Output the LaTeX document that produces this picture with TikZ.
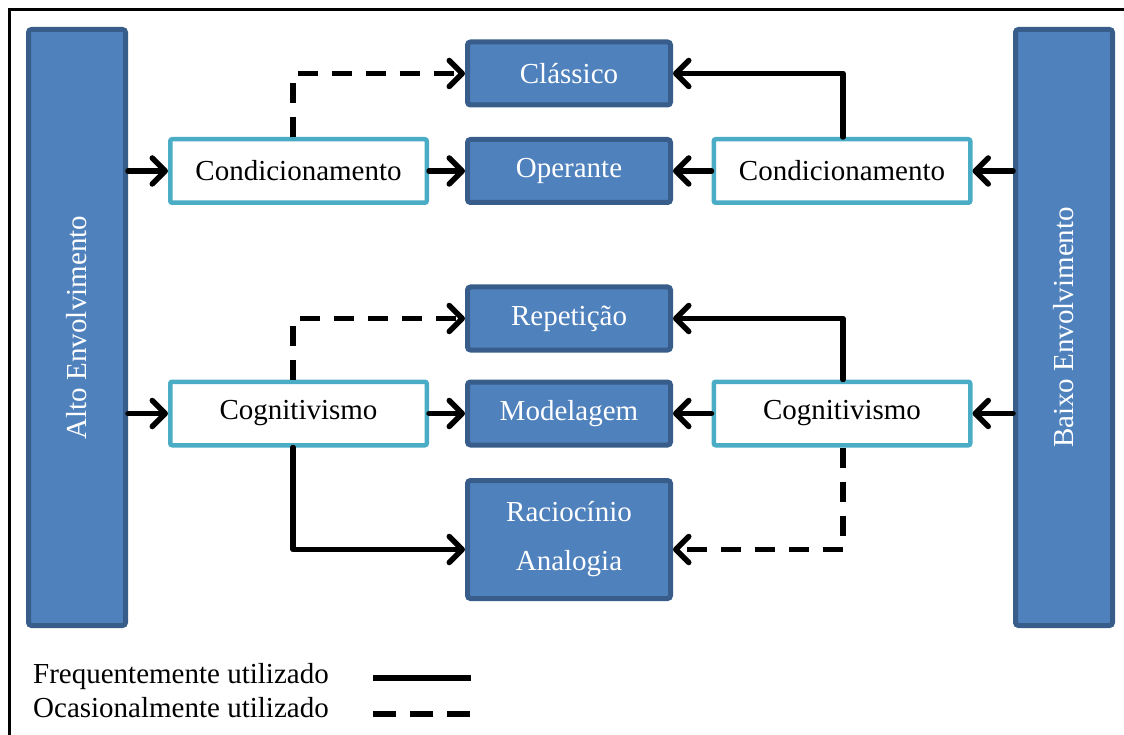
\documentclass[tikz,border=0pt]{standalone}
\usepackage{fontspec}
\setmainfont{Liberation Serif}
\usetikzlibrary{arrows.meta,calc}
\definecolor{barfill}{HTML}{4F81BD}
\definecolor{barline}{HTML}{385D8A}
\definecolor{cyanline}{HTML}{4BACC6}
\tikzset{
  txt/.style={font=\fontsize{29}{35}\selectfont},
  bluebox/.style={txt, draw=barline, line width=5pt, fill=barfill, text=white,
    rounded corners=3pt, inner sep=0pt, minimum width=203, minimum height=63},
  whitebox/.style={txt, draw=cyanline, line width=4.5pt, fill=white, text=black,
    rounded corners=2pt, inner sep=0pt, minimum width=256.5, minimum height=63.5},
  bar/.style={bluebox, minimum width=97, minimum height=596},
  link/.style={line width=5.5pt, line cap=round, line join=round,
    -{Straight Barb[length=13pt,width=26pt,round]}},
  occasional/.style={link, line cap=butt, dash pattern=on 20pt off 14pt},
}
\begin{document}
\begin{tikzpicture}[x=1pt,y=-1pt]
  \useasboundingbox (0,0) rectangle (1124,735);
  \begin{scope}
    \clip (0,0) rectangle (1124,735);
    \draw[line width=3pt] (9.5,9.5) rectangle (1140,750);
  \end{scope}

  % side bars
  \node[bar] (alto) at (77,327.5) {};
  \node[txt, text=white, rotate=90] at (alto.center) {Alto Envolvimento};
  \node[bar] (baixo) at (1064,327.5) {};
  \node[txt, text=white, rotate=90] at (baixo.center) {Baixo Envolvimento};

  % upper group
  \node[bluebox] (classico) at (569,73.5) {Clássico};
  \node[whitebox] (condL) at (298.5,171) {Condicionamento};
  \node[bluebox] (oper) at (569,171) {Operante};
  \node[whitebox] (condR) at (842,171) {Condicionamento};

  % lower group
  \node[bluebox] (repet) at (569,318.5) {Repetição};
  \node[whitebox] (cogL) at (298.5,413.5) {Cognitivismo};
  \node[bluebox] (model) at (569,413.5) {Modelagem};
  \node[whitebox] (cogR) at (842,413.5) {Cognitivismo};
  \node[bluebox, minimum height=118, align=center] (racio) at (569,539.5)
    {Raciocínio\\[14pt]Analogia};

  % connectors, upper group
  \draw[link] (alto.east |- condL.west) -- (condL.west);
  \draw[link] (condL.east) -- (oper.west);
  \draw[link] (condR.west) -- (oper.east);
  \draw[link] (baixo.west |- condR.east) -- (condR.east);
  \draw[link] ($(condR.north)+(1,0)$) |- (classico.east);
  \draw[occasional] ($(condL.north)+(-5.5,0)$) |- (classico.west);

  % connectors, lower group
  \draw[link] (alto.east |- cogL.west) -- (cogL.west);
  \draw[link] (cogL.east) -- (model.west);
  \draw[link] (cogR.west) -- (model.east);
  \draw[link] (baixo.west |- cogR.east) -- (cogR.east);
  \draw[link] ($(cogR.north)+(1,0)$) |- (repet.east);
  \draw[occasional] ($(cogL.north)+(-5.5,0)$) |- (repet.west);
  \draw[link] ($(cogL.south)+(-5.5,0)$) |- ($(racio.west)+(0,10)$);
  \draw[occasional] ($(cogR.south)+(1,0)$) |- ($(racio.east)+(0,10)$);

  % legend
  \node[txt, anchor=base west, inner sep=0pt] (legA) at (33,683) {Frequentemente utilizado};
  \node[txt, anchor=base west, inner sep=0pt] (legB) at (33,717) {Ocasionalmente utilizado};
  \coordinate (sA) at (373,678);
  \coordinate (eA) at (471,678);
  \coordinate (sB) at (373,714);
  \coordinate (eB) at (470,714);
  \draw[line width=5.5pt] (sA) -- (eA);
  \draw[line width=5.5pt, dash pattern=on 23pt off 14pt] (sB) -- (eB);
\end{tikzpicture}
\end{document}
